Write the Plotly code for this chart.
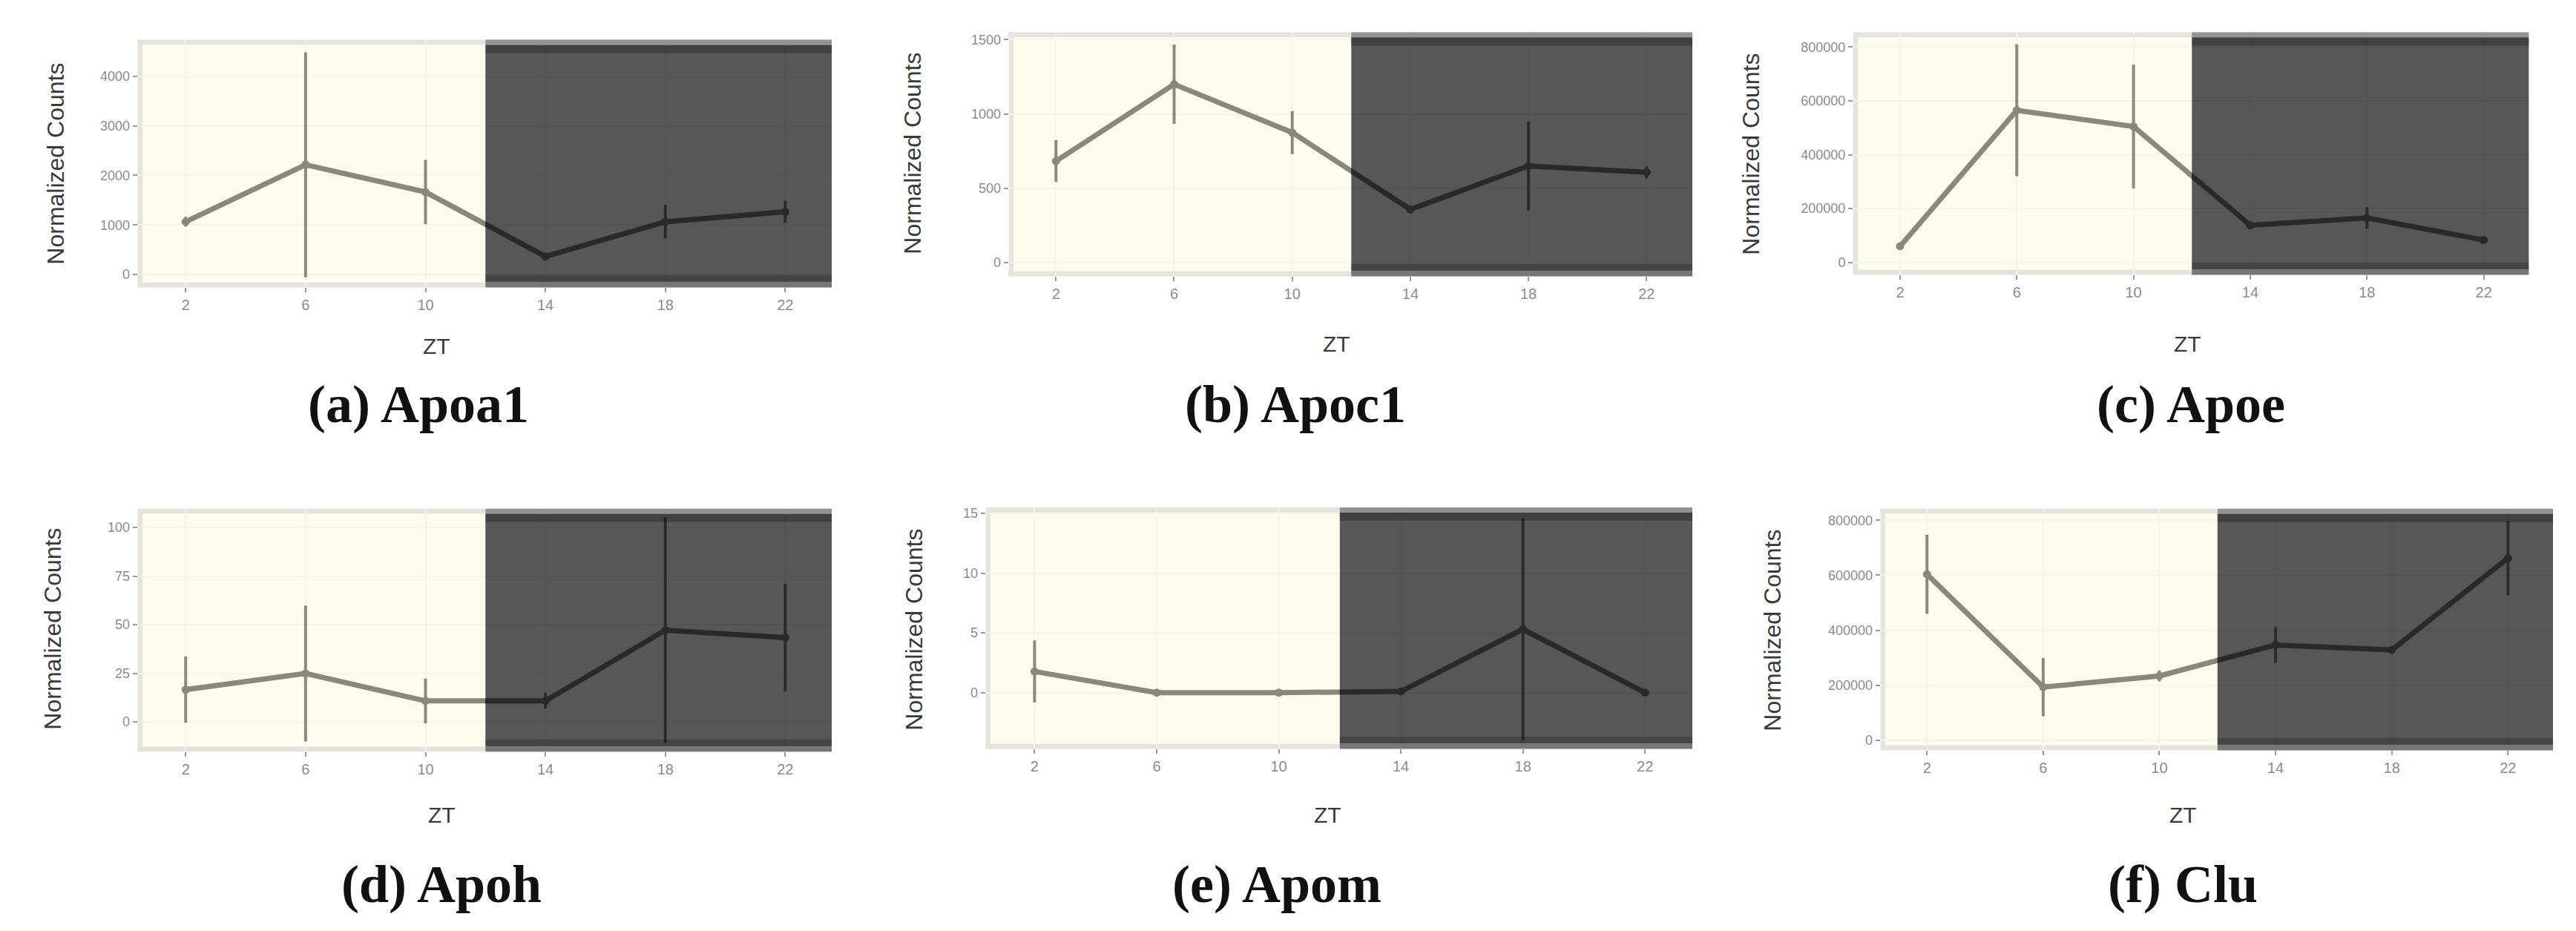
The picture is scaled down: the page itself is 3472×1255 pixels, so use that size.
import plotly.graph_objects as go

# ---------------- data ----------------
ZT = [2, 6, 10, 14, 18, 22]
ZT_LABELS = ["2", "6", "10", "14", "18", "22"]
LIGHT_END = 12  # ZT at which the dark phase starts

apoa1_mean = [1065, 2215, 1665, 365, 1065, 1265]
apoa1_sd = [100, 2270, 650, 60, 340, 225]

apoc1_mean = [683, 1200, 875, 358, 650, 608]
apoc1_sd = [140, 267, 145, 25, 300, 40]

apoe_mean = [60000, 565000, 505000, 138000, 165000, 83000]
apoe_sd = [10000, 245000, 230000, 15000, 40000, 15000]

apoh_mean = [16.6, 24.9, 10.8, 10.8, 47.2, 43.4]
apoh_sd = [17, 35, 11.5, 4, 58, 27.7]

apom_mean = [1.77, 0, 0, 0.1, 5.3, 0]
apom_sd = [2.6, 0, 0, 0, 9.3, 0]

clu_mean = [603600, 193700, 234200, 346800, 328800, 662200]
clu_sd = [144000, 106000, 20000, 65000, 8000, 135000]

captions = ["(a) Apoa1", "(b) Apoc1", "(c) Apoe", "(d) Apoh", "(e) Apom", "(f) Clu"]

ticks_a = [0, 1000, 2000, 3000, 4000]
ticks_b = [0, 500, 1000, 1500]
ticks_c = [0, 200000, 400000, 600000, 800000]
ticks_d = [0, 25, 50, 75, 100]
ticks_e = [0, 5, 10, 15]
ticks_f = [0, 200000, 400000, 600000, 800000]

means = [apoa1_mean, apoc1_mean, apoe_mean, apoh_mean, apom_mean, clu_mean]
sds = [apoa1_sd, apoc1_sd, apoe_sd, apoh_sd, apom_sd, clu_sd]
yticks = [ticks_a, ticks_b, ticks_c, ticks_d, ticks_e, ticks_f]
yranges = [[-260, 4740], [-92, 1550], [-46000, 855000],
           [-15.3, 109.7], [-4.7, 15.5], [-36000, 842000]]
XRANGE = [0.4, 23.55]

# ---------------- layout geometry (pixels in 3472x1255) ----------------
W, H = 3472, 1255
# panel boxes: left, right, top, bottom
boxes = [
    (177.6, 1113, 43.5, 378),
    (1351.6, 2273, 33.5, 363),
    (2490, 3400.6, 33.5, 361),
    (177.6, 1113, 676.8, 1004.8),
    (1320.6, 2273, 675, 1001),
    (2526.6, 3433, 676.8, 1003),
]
ytitle_pos = [(67, 211), (1222, 197), (2352, 198), (63, 839), (1224, 840), (2381, 841)]
xtitle_pos = [(580, 457), (1793, 454), (2940, 454), (587, 1090), (1782, 1090), (2934, 1090)]
caption_pos = [(556, 536), (1738, 536), (2945, 536), (587, 1184), (1713, 1184), (2934, 1184)]

fig = go.Figure()
layout = dict(
    width=W, height=H, margin=dict(l=0, r=0, t=0, b=0),
    paper_bgcolor="white", plot_bgcolor="white", showlegend=False,
    font=dict(family="Liberation Sans, Arial, sans-serif"),
)
shapes = []
annotations = []

for i in range(6):
    n = "" if i == 0 else str(i + 1)
    xa, ya = "x" + n, "y" + n
    l, r, t, b = boxes[i]
    layout["xaxis" + n] = dict(
        domain=[l / W, r / W], range=XRANGE, anchor=ya,
        tickvals=ZT, ticktext=ZT_LABELS, ticks="outside", ticklen=6,
        tickcolor="#9a9a9a", tickwidth=2,
        tickfont=dict(size=20, color="#8c8c8c"),
        showgrid=True, gridcolor="#F0F0F0", gridwidth=2,
        zeroline=False, showline=False,
    )
    layout["yaxis" + n] = dict(
        domain=[1 - b / H, 1 - t / H], range=yranges[i], anchor=xa,
        tickvals=yticks[i], ticktext=[str(v) for v in yticks[i]],
        ticks="outside", ticklen=6, tickcolor="#9a9a9a", tickwidth=2,
        tickfont=dict(size=18, color="#8c8c8c"),
        showgrid=True, gridcolor="#F0F0F0", gridwidth=2,
        zeroline=False, showline=False,
    )

    fig.add_trace(go.Scatter(
        x=ZT, y=means[i], xaxis=xa, yaxis=ya, mode="lines+markers",
        line=dict(color="#0d0d0d", width=7),
        marker=dict(color="#0d0d0d", size=11),
        error_y=dict(type="data", array=sds[i], visible=True,
                     color="#111111", thickness=4, width=0),
        hoverinfo="skip",
    ))

    xd, yd = xa + " domain", ya + " domain"
    # light grey frame bands (below)
    shapes.append(dict(type="rect", xref=xd, yref=yd, x0=0, x1=1, y0=0.979, y1=1,
                       fillcolor="#E4E4DC", line_width=0, layer="below"))
    shapes.append(dict(type="rect", xref=xd, yref=yd, x0=0, x1=1, y0=0, y1=0.021,
                       fillcolor="#E4E4DC", line_width=0, layer="below"))
    shapes.append(dict(type="rect", xref=xd, yref=yd, x0=0, x1=0.007, y0=0, y1=1,
                       fillcolor="#E4E4DC", line_width=0, layer="below"))
    # light phase (yellow) over the data
    shapes.append(dict(type="rect", xref=xa, yref=yd, x0=XRANGE[0] + 0.16, x1=LIGHT_END,
                       y0=0.021, y1=0.979, fillcolor="rgb(251,251,222)", opacity=0.52,
                       line_width=0, layer="above"))
    # dark phase over the data
    shapes.append(dict(type="rect", xref=xa, yref=yd, x0=LIGHT_END, x1=XRANGE[1],
                       y0=0.021, y1=0.979, fillcolor="rgb(48,48,48)", opacity=0.81,
                       line_width=0, layer="above"))
    shapes.append(dict(type="rect", xref=xa, yref=yd, x0=LIGHT_END, x1=XRANGE[1],
                       y0=0.979, y1=1, fillcolor="#8E8E8E", opacity=0.95,
                       line_width=0, layer="above"))
    shapes.append(dict(type="rect", xref=xa, yref=yd, x0=LIGHT_END, x1=XRANGE[1],
                       y0=0, y1=0.021, fillcolor="#707070", opacity=0.95,
                       line_width=0, layer="above"))
    shapes.append(dict(type="rect", xref=xa, yref=yd, x0=LIGHT_END, x1=XRANGE[1],
                       y0=0.945, y1=0.979, fillcolor="black", opacity=0.25,
                       line_width=0, layer="above"))
    shapes.append(dict(type="rect", xref=xa, yref=yd, x0=LIGHT_END, x1=XRANGE[1],
                       y0=0.021, y1=0.05, fillcolor="black", opacity=0.2,
                       line_width=0, layer="above"))

    # axis titles
    tx, ty = ytitle_pos[i]
    annotations.append(dict(text="Normalized Counts", xref="paper", yref="paper",
                            x=tx / W, y=1 - ty / H, textangle=-90, showarrow=False,
                            xanchor="center", yanchor="middle",
                            font=dict(size=32, color="#3a3a3a",
                                      family="Liberation Sans, Arial, sans-serif")))
    tx, ty = xtitle_pos[i]
    annotations.append(dict(text="ZT", xref="paper", yref="paper",
                            x=tx / W, y=1 - ty / H, showarrow=False,
                            xanchor="center", yanchor="middle",
                            font=dict(size=30, color="#3a3a3a",
                                      family="Liberation Sans, Arial, sans-serif")))
    tx, ty = caption_pos[i]
    annotations.append(dict(text="<b>" + captions[i] + "</b>", xref="paper", yref="paper",
                            x=tx / W, y=1 - ty / H, showarrow=False,
                            xanchor="center", yanchor="middle",
                            font=dict(size=72, color="#111111",
                                      family="Liberation Serif, Times New Roman, serif")))

layout["shapes"] = shapes
layout["annotations"] = annotations
fig.update_layout(**layout)
fig.write_html("out.html")
